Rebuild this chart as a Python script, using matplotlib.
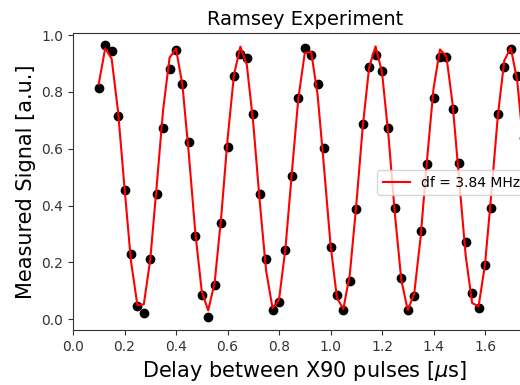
import numpy as np
import matplotlib
matplotlib.use("Agg")
import matplotlib.pyplot as plt

# Delay times (µs)
delays = [0.100, 0.125, 0.150, 0.175, 0.200, 0.225, 0.250, 0.275, 0.300, 0.325,
          0.350, 0.375, 0.400, 0.425, 0.450, 0.475, 0.500, 0.525, 0.550, 0.575,
          0.600, 0.625, 0.650, 0.675, 0.700, 0.725, 0.750, 0.775, 0.800, 0.825,
          0.850, 0.875, 0.900, 0.925, 0.950, 0.975, 1.000, 1.025, 1.050, 1.075,
          1.100, 1.125, 1.150, 1.175, 1.200, 1.225, 1.250, 1.275, 1.300, 1.325,
          1.350, 1.375, 1.400, 1.425, 1.450, 1.475, 1.500, 1.525, 1.550, 1.575,
          1.600, 1.625, 1.650, 1.675, 1.700, 1.725, 1.750]

# Measured signal (points)
signal = [0.813, 0.965, 0.942, 0.715, 0.455, 0.230, 0.046, 0.022, 0.211, 0.442,
          0.672, 0.881, 0.948, 0.827, 0.623, 0.292, 0.085, 0.008, 0.119, 0.340,
          0.605, 0.856, 0.933, 0.918, 0.721, 0.442, 0.211, 0.032, 0.061, 0.244,
          0.505, 0.778, 0.953, 0.928, 0.827, 0.601, 0.253, 0.085, 0.032, 0.135,
          0.387, 0.688, 0.886, 0.929, 0.874, 0.673, 0.393, 0.144, 0.032, 0.081,
          0.312, 0.546, 0.780, 0.921, 0.921, 0.739, 0.548, 0.273, 0.091, 0.041,
          0.191, 0.391, 0.721, 0.886, 0.951, 0.856, 0.638]

# Fitted curve values (red line)
fit = [0.828, 0.953, 0.917, 0.731, 0.463, 0.205, 0.050, 0.052, 0.210, 0.469,
       0.737, 0.920, 0.952, 0.824, 0.579, 0.305, 0.098, 0.031, 0.128, 0.354,
       0.631, 0.859, 0.959, 0.895, 0.690, 0.416, 0.170, 0.039, 0.068, 0.249,
       0.516, 0.776, 0.936, 0.941, 0.789, 0.533, 0.263, 0.075, 0.036, 0.158,
       0.400, 0.675, 0.886, 0.960, 0.869, 0.647, 0.371, 0.138, 0.032, 0.089,
       0.289, 0.562, 0.811, 0.949, 0.926, 0.751, 0.486, 0.224, 0.057, 0.045,
       0.192, 0.446, 0.717, 0.910, 0.956, 0.840, 0.602]

fit_label = "df = 3.84 MHz"

W, H = 520, 385
fig = plt.figure(figsize=(W / 100, H / 100), dpi=100)
left_px, right_px, top_px, bottom_px = 73, 73 + 1.8 * 257.5, 33.3, 330
ax = fig.add_axes([left_px / W, 1 - bottom_px / H,
                   (right_px - left_px) / W, (bottom_px - top_px) / H])

ax.scatter(delays, signal, color="black", s=36)
ax.plot(delays, fit, color="red", lw=1.5, label=fit_label)

ax.set_xlim(0, 1.8)
ax.set_ylim(-0.038, 1.006)
ax.set_xticks([0.0, 0.2, 0.4, 0.6, 0.8, 1.0, 1.2, 1.4, 1.6])
ax.set_yticks([0.0, 0.2, 0.4, 0.6, 0.8, 1.0])
ax.tick_params(labelsize=10, colors="#333333", labelcolor="#333333")
for sp in ax.spines.values():
    sp.set_color("#333333")

ax.set_title("Ramsey Experiment", fontsize=14)
ax.set_xlabel(r"Delay between X90 pulses [$\mu$s]", fontsize=15)
ax.set_ylabel("Measured Signal [a.u.]", fontsize=15)

ax.legend(loc="upper left", bbox_to_anchor=(377 / W, 1 - 170 / H),
          bbox_transform=fig.transFigure, borderaxespad=0, fontsize=10)

fig.savefig("out.png", dpi=100)
